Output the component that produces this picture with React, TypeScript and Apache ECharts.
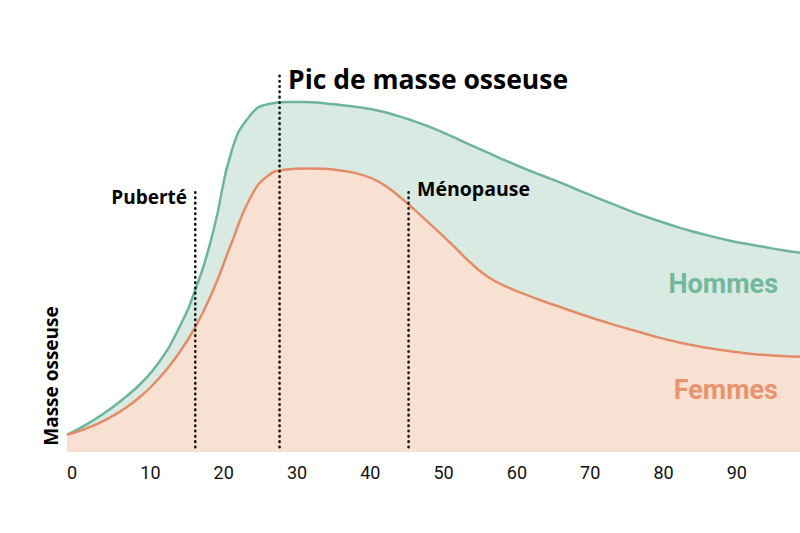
import React, { useEffect, useRef } from "react";
import * as echarts from "echarts";

// ages every 2.5 years, 0 to 100
const ages = [
  0, 2.5, 5, 7.5, 10, 12.5, 15, 17.5, 20, 22.5, 25, 27.5, 30, 32.5, 35, 37.5, 40, 42.5, 45, 47.5, 50,
  52.5, 55, 57.5, 60, 62.5, 65, 67.5, 70, 72.5, 75, 77.5, 80, 82.5, 85, 87.5, 90, 92.5, 95, 97.5, 100,
];
const hommesValues = [
  4.3, 6.7, 9.6, 13, 17, 22.3, 30, 40.5, 55.5, 75.5, 84.2, 87, 87.5, 87.5, 87.2, 86.7, 86.1, 85.3, 84.1, 82.6, 80.9,
  78.9, 76.8, 74.8, 72.7, 70.8, 69, 67.2, 65.3, 63.4, 61.6, 59.8, 58.2, 56.7, 55.3, 54.1, 53, 52.1, 51.3, 50.5, 49.8,
];
const femmesValues = [
  4.3, 5.8, 7.8, 10.4, 13.8, 18.3, 24, 31.2, 40.7, 52.5, 63.5, 69.2, 70.6, 70.9, 70.8, 70.3, 69.4, 67.6, 64.4, 60.4, 56.2,
  51.9, 47.4, 43.7, 41.3, 39.4, 37.7, 36.1, 34.5, 33, 31.6, 30.3, 29, 27.8, 26.8, 26, 25.3, 24.7, 24.3, 24, 23.8,
];

// vertical dotted markers: age, top of the line
const markerAges = [17.5, 29, 46.6];
const markerTops = [65.5, 94.2, 65.5];

const GREEN = "#6db59a";
const GREEN_FILL = "#d9eae2";
const ORANGE = "#e38d68";
const ORANGE_FILL = "#f8e1d3";
const FONT = "Roboto";
const NOTE_FONT = "'Open Sans'";

const App: React.FC = () => {
  const chartRef = useRef<HTMLDivElement>(null);

  useEffect(() => {
    if (!chartRef.current) return;
    const chart = echarts.init(chartRef.current, null, { renderer: "svg" });

    const markerSeries = markerAges.map((age, i) => ({
      type: "line",
      data: [
        [age, 1.2],
        [age, markerTops[i]],
      ],
      symbol: "none",
      silent: true,
      z: 5,
      lineStyle: { color: "#111", width: 2.6, type: [0.5, 4.8], cap: "round" },
    }));

    const note = (text: string, x: number, y: number, size: number, align: string) => ({
      type: "text",
      x,
      y,
      z: 10,
      style: {
        text,
        font: `bold ${size}px ${NOTE_FONT}`,
        fill: "#000",
        align,
        verticalAlign: "middle",
      },
    });

    const option: any = {
      animation: false,
      grid: { left: 67, right: 0, top: 52, bottom: 81, outerBoundsMode: "none" },
      xAxis: {
        type: "value",
        min: 0,
        max: 100,
        interval: 10,
        axisLine: { show: false },
        axisTick: { show: false },
        splitLine: { show: false },
        axisLabel: {
          align: "left",
          margin: 11,
          fontSize: 18,
          fontFamily: FONT,
          color: "#111",
          showMaxLabel: false,
        },
      },
      yAxis: {
        type: "value",
        min: 0,
        max: 100,
        show: false,
      },
      series: [
        {
          name: "Hommes",
          type: "line",
          data: ages.map((a, i) => [a, hommesValues[i]]),
          smooth: 0.5,
          symbol: "none",
          lineStyle: { color: GREEN, width: 2.5 },
          areaStyle: { color: GREEN_FILL, opacity: 1 },
          z: 2,
        },
        {
          name: "Femmes",
          type: "line",
          data: ages.map((a, i) => [a, femmesValues[i]]),
          smooth: 0.5,
          symbol: "none",
          lineStyle: { color: ORANGE, width: 2.5 },
          areaStyle: { color: ORANGE_FILL, opacity: 1 },
          z: 3,
        },
        ...markerSeries,
      ],
      graphic: [
        note("Pic de masse osseuse", 288, 79, 26.5, "left"),
        note("Puberté", 187, 197, 19, "right"),
        note("Ménopause", 417, 188, 19.5, "left"),
        {
          type: "text",
          x: 778,
          y: 284,
          z: 10,
          style: {
            text: "Hommes",
            font: `bold 27px ${FONT}`,
            fill: "#72b89d",
            align: "right",
            verticalAlign: "middle",
          },
        },
        {
          type: "text",
          x: 778,
          y: 390,
          z: 10,
          style: {
            text: "Femmes",
            font: `bold 27px ${FONT}`,
            fill: "#e8946e",
            align: "right",
            verticalAlign: "middle",
          },
        },
        {
          type: "text",
          x: 51,
          y: 376,
          z: 10,
          rotation: Math.PI / 2,
          style: {
            text: "Masse osseuse",
            font: `bold 19px ${NOTE_FONT}`,
            fill: "#000",
            align: "center",
            verticalAlign: "middle",
          },
        },
      ],
    };

    chart.setOption(option);
    return () => {
      chart.dispose();
    };
  }, []);

  return (
    <div
      ref={chartRef}
      style={{ position: "fixed", left: 0, top: 0, width: 800, height: 533, background: "#fff" }}
    />
  );
};

export default App;
